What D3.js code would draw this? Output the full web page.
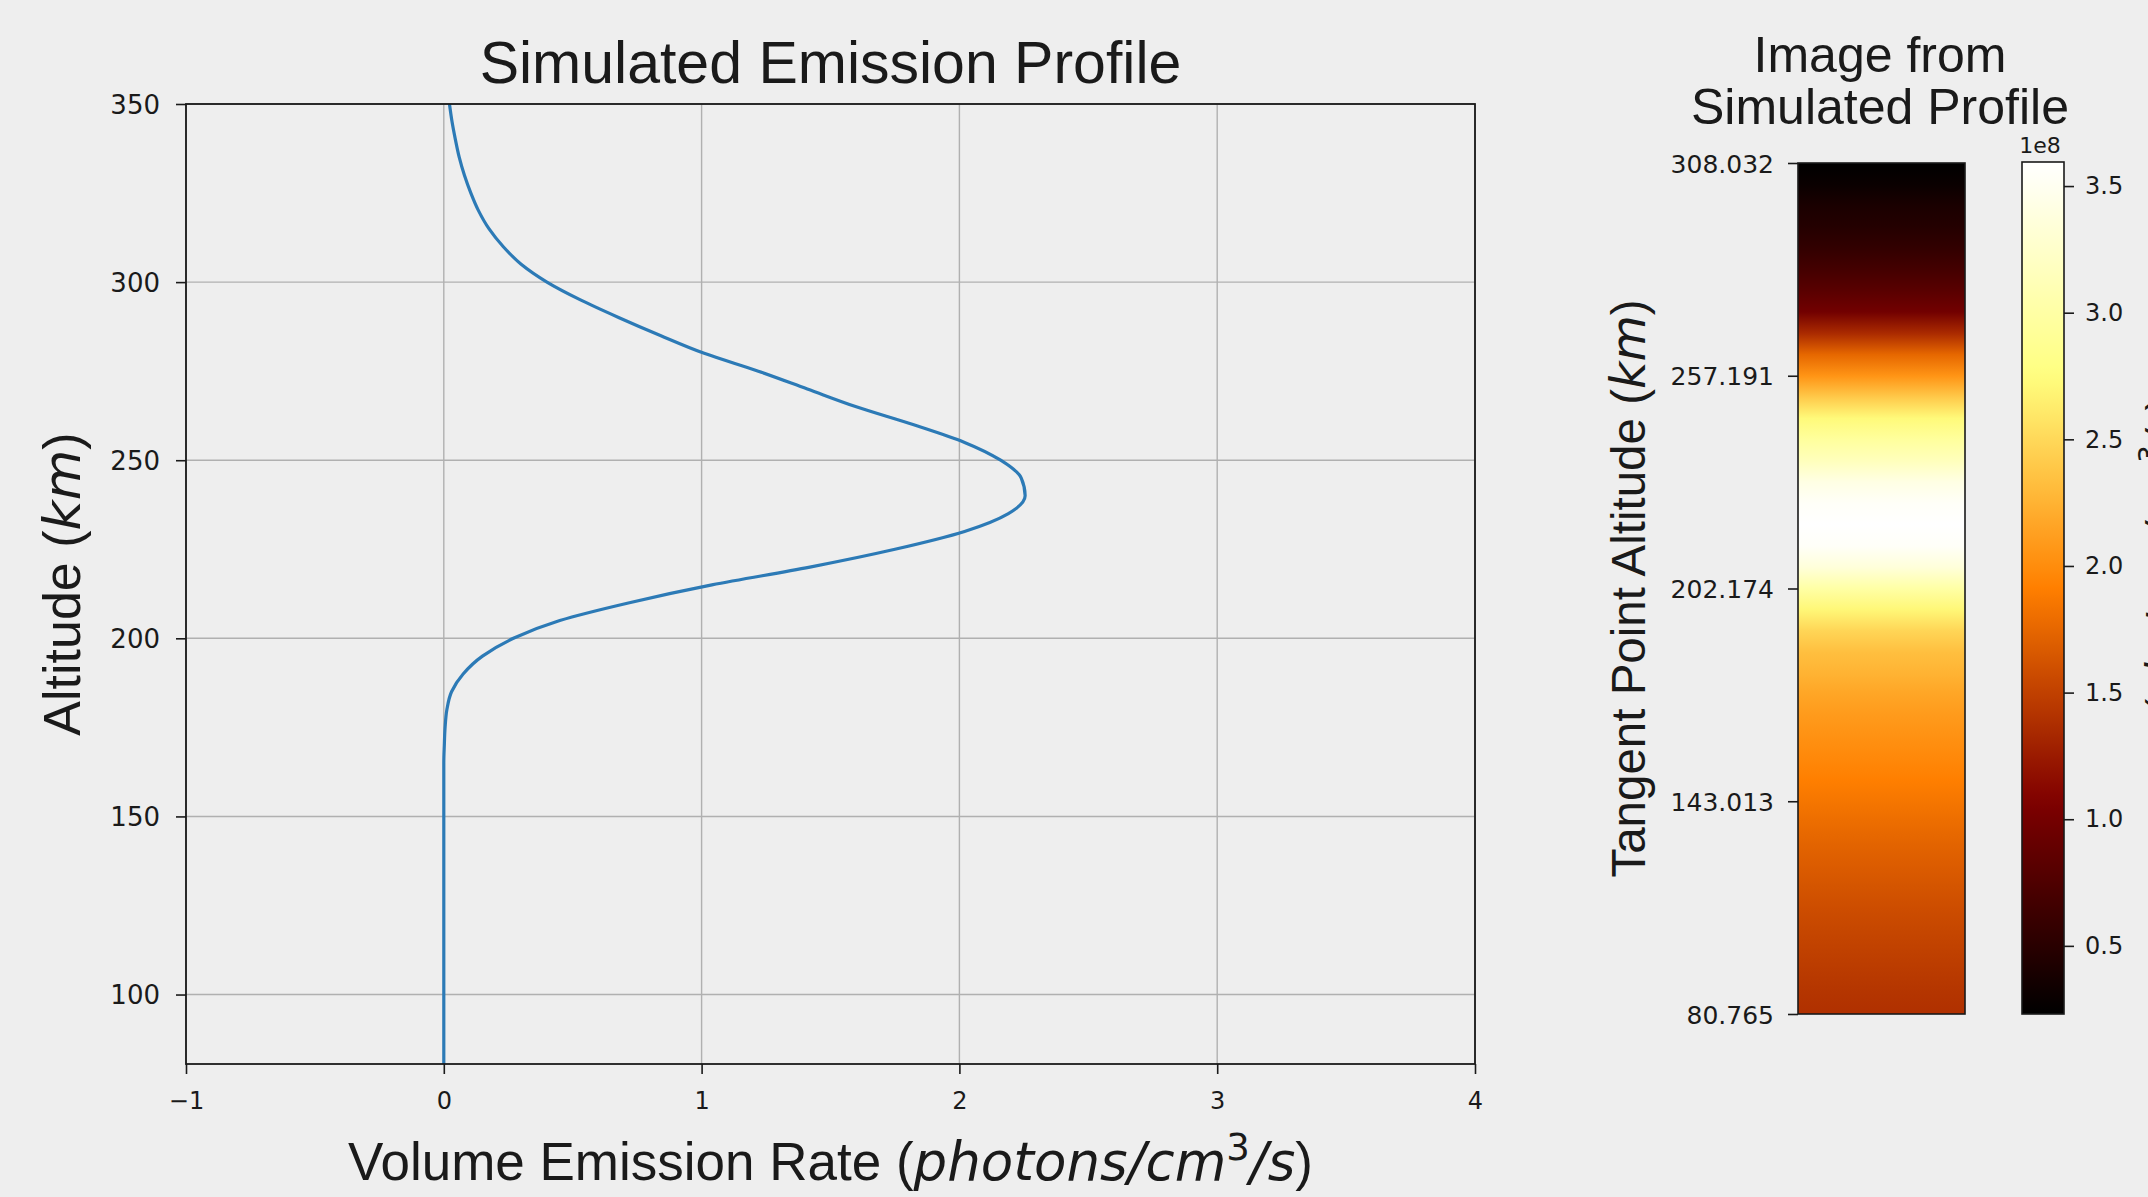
<!DOCTYPE html>
<html>
<head>
<meta charset="utf-8">
<script src="https://cdn.jsdelivr.net/npm/d3@7"></script>
<style>
  html, body { margin: 0; padding: 0; background: #eeeeee; }
  svg { display: block; }
</style>
</head>
<body>
<svg id="fig" width="2148" height="1197"></svg>
<script>
// ---- Simulated emission profile (altitude in km, rate in photons/cm^3/s) ----
const altitudeKm = [80.5, 85, 90, 95, 100, 105, 110, 115, 120, 125, 130, 135, 140, 145,
  150, 155, 160, 165, 170, 175, 180, 185, 190, 195, 200, 205, 210, 215, 220, 225, 230,
  235, 240, 245, 250, 255, 260, 265, 270, 275, 280, 285, 290, 295, 300, 305, 310, 315,
  320, 325, 330, 335, 340, 345, 350];
const emissionRate = [0, 0, 0, 0, 0, 0, 0, 0, 0, 0, 0, 0, 0, 0,
  0, 0, 0, 0, 0.002, 0.005, 0.012, 0.03, 0.075, 0.15, 0.27, 0.45, 0.72, 1.04, 1.42, 1.75, 2.02,
  2.19, 2.255, 2.24, 2.16, 2.02, 1.82, 1.60, 1.41, 1.22, 1.01, 0.84, 0.68, 0.53, 0.40, 0.30, 0.23, 0.175,
  0.135, 0.105, 0.08, 0.06, 0.045, 0.032, 0.022];
const xTicks = [-1, 0, 1, 2, 3, 4];
const yTicks = [100, 150, 200, 250, 300, 350];

// ---- Limb image built from the profile (rows top -> bottom, brightness in units of 1e8) ----
const tangentAltitudeLabels = ["308.032", "257.191", "202.174", "143.013", "80.765"];
const imageBrightness = [0.231, 0.30, 0.40, 0.47, 0.56, 0.68, 0.82, 0.98, 1.35, 1.75,
  2.05, 2.40, 2.72, 2.95, 3.15, 3.42, 3.55, 3.595, 3.55, 3.35,
  3.00, 2.70, 2.48, 2.33, 2.25, 2.16, 2.09, 2.03, 1.97, 1.91,
  1.85, 1.79, 1.73, 1.68, 1.63, 1.58, 1.54, 1.50, 1.46, 1.42, 1.39];
const colorbarTicks = [0.5, 1.0, 1.5, 2.0, 2.5, 3.0, 3.5];
const brightnessRange = [0.231, 3.595];

const W = 2148, H = 1197;
const BG = "#eeeeee";
const INK = "#1a1a1a";
const SANS = "'Liberation Sans', Arial, Helvetica, sans-serif";
const TICKFONT = "'DejaVu Sans', Verdana, sans-serif";
const MATH = "'DejaVu Sans', sans-serif";

const svg = d3.select("#fig");
svg.append("rect").attr("width", W).attr("height", H).attr("fill", BG);
const defs = svg.append("defs");

// "afmhot" colour map
const afmhot = t => {
  const c = v => Math.round(255 * Math.max(0, Math.min(1, v)));
  return `rgb(${c(2 * t)},${c(2 * t - 0.5)},${c(2 * t - 1)})`;
};
const color = d3.scaleSequential(afmhot).domain(brightnessRange);

function styleAxis(sel, fontSize) {
  sel.select(".domain").remove();
  sel.selectAll(".tick line").attr("stroke", INK).attr("stroke-width", 1.6);
  sel.selectAll(".tick text")
    .attr("fill", INK)
    .style("font-family", TICKFONT)
    .style("font-size", fontSize + "px");
}

// ================= Left panel: emission profile =================
const ax = { left: 186, right: 1475, top: 104, bottom: 1064 };
const x = d3.scaleLinear().domain([-1, 4]).range([ax.left, ax.right]);
const y = d3.scaleLinear().domain([80.5, 350]).range([ax.bottom, ax.top]);

const grid = svg.append("g");
grid.selectAll("line.gx").data(xTicks).join("line")
  .attr("class", "gx")
  .attr("x1", d => x(d)).attr("x2", d => x(d))
  .attr("y1", ax.top).attr("y2", ax.bottom)
  .attr("stroke", "#b0b0b0").attr("stroke-width", 1.4);
grid.selectAll("line.gy").data(yTicks).join("line")
  .attr("class", "gy")
  .attr("y1", d => y(d)).attr("y2", d => y(d))
  .attr("x1", ax.left).attr("x2", ax.right)
  .attr("stroke", "#b0b0b0").attr("stroke-width", 1.4);

defs.append("clipPath").attr("id", "plotClip")
  .append("rect")
  .attr("x", ax.left).attr("y", ax.top)
  .attr("width", ax.right - ax.left).attr("height", ax.bottom - ax.top);

const profile = altitudeKm.map((a, i) => ({ alt: a, rate: emissionRate[i] }));
svg.append("path")
  .datum(profile)
  .attr("clip-path", "url(#plotClip)")
  .attr("fill", "none")
  .attr("stroke", "#2c7ab6")
  .attr("stroke-width", 3.2)
  .attr("stroke-linejoin", "round")
  .attr("d", d3.line().curve(d3.curveMonotoneY).x(d => x(d.rate)).y(d => y(d.alt)));

const xAxisG = svg.append("g")
  .attr("transform", `translate(0,${ax.bottom})`)
  .call(d3.axisBottom(x).tickValues(xTicks).tickSize(10).tickPadding(18)
    .tickFormat(d => d < 0 ? "\u2212" + Math.abs(d) : String(d)));
styleAxis(xAxisG, 24);

const yAxisG = svg.append("g")
  .attr("transform", `translate(${ax.left},0)`)
  .call(d3.axisLeft(y).tickValues(yTicks).tickSize(10).tickPadding(16));
styleAxis(yAxisG, 26);
yAxisG.selectAll(".tick text").attr("dy", "0.36em");

svg.append("rect")
  .attr("x", ax.left).attr("y", ax.top)
  .attr("width", ax.right - ax.left).attr("height", ax.bottom - ax.top)
  .attr("fill", "none").attr("stroke", INK).attr("stroke-width", 1.8);

svg.append("text")
  .attr("x", (ax.left + ax.right) / 2).attr("y", 83)
  .attr("text-anchor", "middle")
  .style("font-family", SANS).style("font-size", "59px").attr("fill", INK)
  .text("Simulated Emission Profile");

// x label with math part
const xl = svg.append("text")
  .attr("x", (ax.left + ax.right) / 2).attr("y", 1180)
  .attr("text-anchor", "middle")
  .style("font-family", SANS).style("font-size", "53px").attr("fill", INK);
xl.append("tspan").text("Volume Emission Rate (");
xl.append("tspan").style("font-family", MATH).style("font-style", "italic").text("photons/cm");
xl.append("tspan").style("font-family", MATH).style("font-size", "37px").attr("dy", "-20").text("3");
xl.append("tspan").style("font-family", MATH).style("font-style", "italic").attr("dy", "20").text("/s");
xl.append("tspan").text(")");

const yl = svg.append("text")
  .attr("transform", `translate(80,${(ax.top + ax.bottom) / 2}) rotate(-90)`)
  .attr("text-anchor", "middle")
  .style("font-family", SANS).style("font-size", "52px").attr("fill", INK);
yl.append("tspan").text("Altitude (");
yl.append("tspan").style("font-family", MATH).style("font-style", "italic").text("km");
yl.append("tspan").text(")");

// ================= Middle panel: limb image =================
const im = { left: 1798, right: 1965, top: 163, bottom: 1014 };
const rowOffset = d3.scaleLinear().domain([0, imageBrightness.length - 1]).range([0, 100]);
const imgGrad = defs.append("linearGradient").attr("id", "imgGrad")
  .attr("x1", 0).attr("y1", 0).attr("x2", 0).attr("y2", 1);
imgGrad.selectAll("stop").data(imageBrightness).join("stop")
  .attr("offset", (d, i) => rowOffset(i) + "%")
  .attr("stop-color", d => color(d));
svg.append("rect")
  .attr("x", im.left).attr("y", im.top)
  .attr("width", im.right - im.left).attr("height", im.bottom - im.top)
  .attr("fill", "url(#imgGrad)")
  .attr("stroke", INK).attr("stroke-width", 1.6);

const rowScale = d3.scalePoint().domain(tangentAltitudeLabels).range([im.top, im.bottom]);
const imAxisG = svg.append("g")
  .attr("transform", `translate(${im.left},0)`)
  .call(d3.axisLeft(rowScale).tickSize(10).tickPadding(14));
styleAxis(imAxisG, 25);
imAxisG.selectAll(".tick text").attr("dy", "0.36em");

svg.append("text").attr("x", 1880).attr("y", 72).attr("text-anchor", "middle")
  .style("font-family", SANS).style("font-size", "50px").attr("fill", INK)
  .text("Image from");
svg.append("text").attr("x", 1880).attr("y", 124).attr("text-anchor", "middle")
  .style("font-family", SANS).style("font-size", "50px").attr("fill", INK)
  .text("Simulated Profile");

const tl = svg.append("text")
  .attr("transform", `translate(1645,${(im.top + im.bottom) / 2}) rotate(-90)`)
  .attr("text-anchor", "middle")
  .style("font-family", SANS).style("font-size", "47.5px").attr("fill", INK);
tl.append("tspan").text("Tangent Point Altitude (");
tl.append("tspan").style("font-family", MATH).style("font-style", "italic").text("km");
tl.append("tspan").text(")");

// ================= Colour bar =================
const cb = { left: 2022, right: 2064, top: 162, bottom: 1014 };
const cbScale = d3.scaleLinear().domain(brightnessRange).range([cb.bottom, cb.top]);
const cbGrad = defs.append("linearGradient").attr("id", "cbGrad")
  .attr("x1", 0).attr("y1", 1).attr("x2", 0).attr("y2", 0);
cbGrad.selectAll("stop").data(d3.range(0, 1.0001, 0.02)).join("stop")
  .attr("offset", d => (d * 100) + "%")
  .attr("stop-color", d => color(brightnessRange[0] + d * (brightnessRange[1] - brightnessRange[0])));
svg.append("rect")
  .attr("x", cb.left).attr("y", cb.top)
  .attr("width", cb.right - cb.left).attr("height", cb.bottom - cb.top)
  .attr("fill", "url(#cbGrad)")
  .attr("stroke", INK).attr("stroke-width", 1.6);

const cbAxisG = svg.append("g")
  .attr("transform", `translate(${cb.right},0)`)
  .call(d3.axisRight(cbScale).tickValues(colorbarTicks).tickSize(10).tickPadding(11)
    .tickFormat(d3.format(".1f")));
styleAxis(cbAxisG, 24);

svg.append("text").attr("x", 2040).attr("y", 153).attr("text-anchor", "middle")
  .style("font-family", TICKFONT).style("font-size", "22px").attr("fill", INK)
  .text("1e8");

// colour bar label (runs past the right edge of the figure)
const cl = svg.append("text")
  .attr("transform", `translate(2175,712) rotate(-90)`)
  .attr("text-anchor", "start")
  .style("font-family", SANS).style("font-size", "40px").attr("fill", INK);
cl.append("tspan").text("(");
cl.append("tspan").style("font-family", MATH).style("font-style", "italic").text("photons/cm");
cl.append("tspan").style("font-family", MATH).style("font-size", "28px").attr("dy", "-16").text("3");
cl.append("tspan").style("font-family", MATH).style("font-style", "italic").attr("dy", "16").text("/s");
cl.append("tspan").text(")");
</script>
</body>
</html>
